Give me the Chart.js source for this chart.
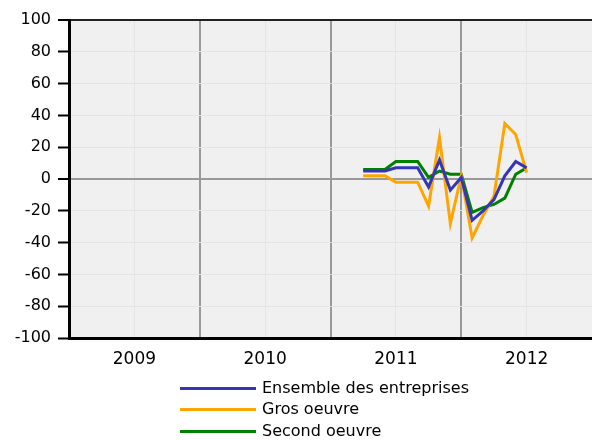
<!DOCTYPE html>
<html>
<head>
<meta charset="utf-8">
<script src="https://cdn.jsdelivr.net/npm/chart.js@4/dist/chart.umd.min.js"></script>
<style>
  html, body { margin: 0; padding: 0; background: #fff; }
  #wrap { position: relative; width: 592px; height: 440px; overflow: hidden; }
  canvas { position: absolute; left: 0; top: 0; }
  .leg { position: absolute; left: 180px; font-family: "DejaVu Sans", sans-serif; font-size: 16px; color: #000; height: 20px; line-height: 20px; }
  .leg span.sw { position: absolute; left: 0; top: 9px; width: 76px; height: 3px; }
  .leg span.tx { position: absolute; left: 82px; top: 0; white-space: nowrap; }
</style>
</head>
<body>
<div id="wrap">
  <canvas id="c" width="592" height="440"></canvas>
</div>
<script>
// Months (year-month)
const months = ["2011-04","2011-05","2011-06","2011-07","2011-08","2011-09","2011-10","2011-11","2011-12",
                "2012-01","2012-02","2012-03","2012-04","2012-05","2012-06","2012-07"];
const seriesNames = ["Ensemble des entreprises", "Gros oeuvre", "Second oeuvre"];
const ensemble = [5, 5, 5, 7, 7, 7, -5, 12, -7, 1, -26, -20, -13, 2, 11, 7];
const grosOeuvre = [2, 2, 2, -2, -2, -2, -17, 26, -28, 2, -37, -23, -11, 35, 28, 4];
const secondOeuvre = [6, 6, 6, 11, 11, 11, 1, 5, 3, 3, -21, -18, -16, -12, 3, 7];
const yearLabels = ["2009", "2010", "2011", "2012"];
const yTicks = [-100, -80, -60, -40, -20, 0, 20, 40, 60, 80, 100];
const colors = ["#3535b5", "#ffa500", "#008000"];

const xs = months.map(m => { const [y, mo] = m.split("-").map(Number); return y + (mo - 1) / 12; });
const toPts = arr => arr.map((v, i) => ({ x: xs[i], y: v }));
const allSeries = [ensemble, grosOeuvre, secondOeuvre];

// HTML legend
const wrap = document.getElementById("wrap");
const legTops = [378, 399, 421];
seriesNames.forEach((n, i) => {
  const d = document.createElement("div");
  d.className = "leg";
  d.style.top = legTops[i] + "px";
  d.innerHTML = '<span class="sw" style="background:' + colors[i] + '"></span><span class="tx"></span>';
  d.querySelector(".tx").textContent = n;
  wrap.appendChild(d);
});

const bgPlugin = {
  id: "bg",
  beforeDraw(chart) {
    const { ctx, chartArea: a } = chart;
    ctx.save();
    ctx.fillStyle = "#f0f0f0";
    ctx.fillRect(a.left, a.top, a.right - a.left, a.bottom - a.top);
    ctx.restore();
  }
};

new Chart(document.getElementById("c"), {
  type: "line",
  data: {
    datasets: allSeries.map((arr, i) => ({
      label: seriesNames[i],
      data: toPts(arr),
      borderColor: colors[i],
      backgroundColor: colors[i],
      borderWidth: 3,
      pointRadius: 0,
      tension: 0,
      fill: false
    }))
  },
  options: {
    responsive: false,
    animation: false,
    devicePixelRatio: 1,
    layout: { padding: { top: 20, right: 0, left: 0, bottom: 0 } },
    plugins: { legend: { display: false }, tooltip: { enabled: false } },
    scales: {
      x: {
        type: "linear",
        min: 2009, max: 2013,
        afterBuildTicks(axis) {
          const t = [];
          for (let v = 2009; v <= 2013.001; v += 0.5) t.push({ value: v });
          axis.ticks = t;
        },
        afterFit(axis) { axis.height = 102; axis.paddingRight = 0; axis.paddingLeft = 0; },
        ticks: {
          autoSkip: false, maxRotation: 0, padding: 11,
          font: { family: "DejaVu Sans", size: 17 }, color: "#000",
          callback(v) {
            const f = Math.floor(v);
            return (Math.abs(v - f - 0.5) < 1e-6) ? yearLabels[f - 2009] : "";
          }
        },
        grid: {
          drawTicks: false,
          color(ctx) {
            const v = ctx.tick ? ctx.tick.value : 0;
            if (v >= 2013) return "rgba(0,0,0,0)";
            return Number.isInteger(v) ? "#999999" : "#e4e4e4";
          },
          lineWidth(ctx) {
            const v = ctx.tick ? ctx.tick.value : 0;
            return Number.isInteger(v) ? 2 : 1;
          }
        },
        border: { display: true, color: "#000", width: 3 }
      },
      y: {
        min: -100, max: 100,
        afterBuildTicks(axis) { axis.ticks = yTicks.map(v => ({ value: v })); },
        afterFit(axis) { axis.width = 69; },
        ticks: {
          padding: 7,
          font: { family: "DejaVu Sans", size: 16 }, color: "#000"
        },
        grid: {
          tickLength: 11,
          tickColor: "#000",
          tickWidth: 2,
          color(ctx) {
            const v = ctx.tick ? ctx.tick.value : 1;
            if (v === 100) return "#222";
            if (v === 0) return "#999999";
            return "#e4e4e4";
          },
          lineWidth(ctx) {
            const v = ctx.tick ? ctx.tick.value : 1;
            if (v === 100 || v === 0) return 2;
            return 1;
          }
        },
        border: { display: true, color: "#000", width: 3 }
      }
    }
  },
  plugins: [bgPlugin]
});
</script>
</body>
</html>
